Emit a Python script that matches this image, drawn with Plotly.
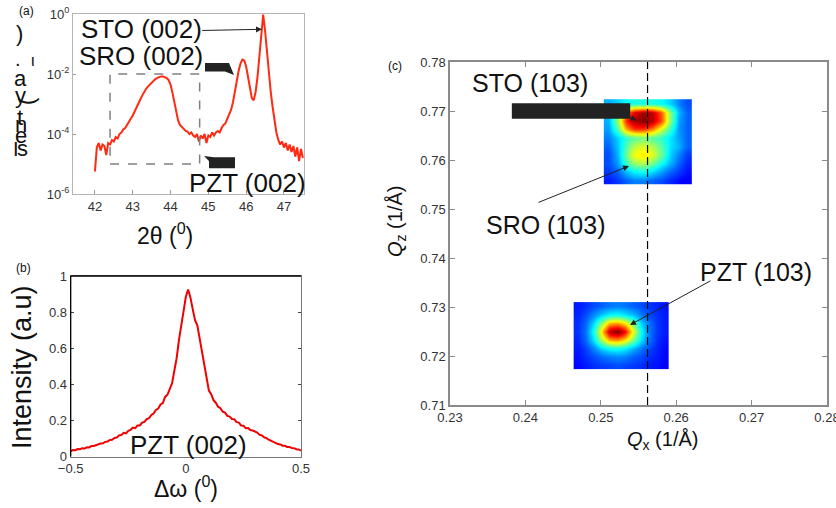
import numpy as np
import plotly.graph_objects as go

W, H = 836, 508
FONT = "Liberation Sans, Arial, Helvetica, sans-serif"

# ---------------- (a) 2theta-omega scan (log10 of normalised intensity) ----------------
two_theta_start = 42.0
two_theta_step = 0.05
log_intensity_2theta = [
    -5.25, -4.45, -4.30, -4.55, -4.35, -4.40, -4.70, -4.30, -4.35, -4.20,
    -4.25, -4.10, -4.15, -4.00, -3.95, -3.85, -3.80, -3.70, -3.60, -3.50,
    -3.38, -3.25, -3.10, -2.98, -2.85, -2.72, -2.60, -2.50, -2.42, -2.35,
    -2.28, -2.22, -2.17, -2.13, -2.10, -2.08, -2.08, -2.10, -2.14, -2.20,
    -2.35, -2.62, -2.95, -3.30, -3.55, -3.70, -3.78, -3.85, -3.90, -3.92,
    -4.00, -3.95, -4.05, -4.10, -4.00, -4.25, -4.05, -4.15, -4.00, -4.30,
    -4.05, -4.10, -3.95, -4.05, -3.95, -3.90, -3.95, -3.80, -3.70, -3.65,
    -3.50, -3.40, -3.20, -2.95, -2.65, -2.25, -1.90, -1.65, -1.52, -1.55,
    -1.75, -2.15, -2.55, -2.80, -2.88, -2.60, -2.10, -1.40, -0.65, -0.02,
    -0.55, -1.30, -2.00, -2.60, -3.10, -3.55, -3.95, -4.20, -4.35, -4.25,
    -4.45, -4.30, -4.55, -4.35, -4.60, -4.40, -4.75, -4.45, -4.90, -4.50,
    -4.80,
]
two_theta = two_theta_start + two_theta_step * np.arange(len(log_intensity_2theta))
intensity_2theta = 10.0 ** np.array(log_intensity_2theta)

# ---------------- (b) rocking curve of PZT (002) ----------------
omega_start = -0.5
omega_step = 0.01
intensity_omega = [
    0.030, 0.036, 0.035, 0.041, 0.040, 0.046, 0.044, 0.051, 0.050, 0.058,
    0.058, 0.064, 0.066, 0.072, 0.073, 0.081, 0.083, 0.092, 0.093, 0.103,
    0.105, 0.117, 0.119, 0.131, 0.128, 0.142, 0.148, 0.160, 0.157, 0.172,
    0.172, 0.188, 0.192, 0.207, 0.212, 0.230, 0.238, 0.258, 0.266, 0.288,
    0.296, 0.330, 0.342, 0.380, 0.405, 0.475, 0.545, 0.645, 0.725, 0.825,
    0.885, 0.925, 0.880, 0.815, 0.755, 0.725, 0.655, 0.585, 0.495, 0.425,
    0.365, 0.345, 0.312, 0.298, 0.276, 0.268, 0.248, 0.243, 0.225, 0.221,
    0.208, 0.207, 0.190, 0.188, 0.172, 0.171, 0.157, 0.158, 0.147, 0.144,
    0.137, 0.133, 0.120, 0.117, 0.106, 0.102, 0.093, 0.086, 0.080, 0.076,
    0.069, 0.067, 0.060, 0.059, 0.053, 0.053, 0.047, 0.046, 0.040, 0.039,
    0.033,
]
omega = omega_start + omega_step * np.arange(len(intensity_omega))

# ---------------- (c) reciprocal space map (normalised intensity, rows top -> bottom) ----------------
sto_sro_map = [
    [0.30, 0.33, 0.38, 0.40, 0.40, 0.40, 0.38, 0.33, 0.25, 0.20],
    [0.30, 0.42, 0.72, 0.90, 0.96, 0.93, 0.78, 0.50, 0.30, 0.22],
    [0.30, 0.52, 0.84, 0.96, 1.00, 0.95, 0.80, 0.50, 0.28, 0.22],
    [0.28, 0.45, 0.70, 0.82, 0.82, 0.74, 0.58, 0.42, 0.27, 0.22],
    [0.25, 0.33, 0.42, 0.47, 0.49, 0.46, 0.42, 0.35, 0.28, 0.22],
    [0.22, 0.32, 0.45, 0.56, 0.59, 0.55, 0.46, 0.35, 0.30, 0.22],
    [0.20, 0.30, 0.48, 0.62, 0.65, 0.60, 0.48, 0.33, 0.25, 0.18],
    [0.20, 0.28, 0.43, 0.53, 0.55, 0.49, 0.39, 0.30, 0.22, 0.16],
    [0.18, 0.22, 0.31, 0.37, 0.39, 0.34, 0.28, 0.22, 0.18, 0.14],
    [0.15, 0.18, 0.22, 0.25, 0.25, 0.22, 0.20, 0.16, 0.13, 0.12],
]
sto_sro_extent = (0.2504, 0.2621, 0.7550, 0.7724)  # Qx0, Qx1, Qz0, Qz1

pzt_map = [
    [0.15, 0.17, 0.20, 0.22, 0.24, 0.25, 0.24, 0.22, 0.20, 0.18, 0.16, 0.14],
    [0.16, 0.20, 0.26, 0.32, 0.37, 0.38, 0.35, 0.31, 0.25, 0.20, 0.17, 0.15],
    [0.17, 0.23, 0.34, 0.52, 0.70, 0.72, 0.64, 0.50, 0.34, 0.24, 0.18, 0.15],
    [0.17, 0.24, 0.40, 0.66, 0.95, 1.00, 0.88, 0.62, 0.39, 0.25, 0.18, 0.15],
    [0.16, 0.23, 0.35, 0.54, 0.70, 0.72, 0.64, 0.50, 0.35, 0.24, 0.17, 0.14],
    [0.15, 0.19, 0.26, 0.34, 0.39, 0.40, 0.37, 0.31, 0.25, 0.20, 0.16, 0.13],
    [0.14, 0.17, 0.20, 0.23, 0.25, 0.26, 0.25, 0.22, 0.20, 0.17, 0.15, 0.13],
    [0.13, 0.15, 0.17, 0.18, 0.19, 0.20, 0.19, 0.18, 0.17, 0.15, 0.14, 0.12],
]
pzt_extent = (0.2464, 0.2590, 0.7173, 0.7310)

qx_substrate = 0.2562

jet = [
    [0.0, "#00008f"], [0.125, "#0000ff"], [0.375, "#00ffff"],
    [0.625, "#ffff00"], [0.875, "#ff0000"], [1.0, "#800000"],
]


def map_trace(rows, extent):
    z = np.array(rows)[::-1]
    nr, nc = z.shape
    qx0, qx1, qz0, qz1 = extent
    dx = (qx1 - qx0) / nc
    dy = (qz1 - qz0) / nr
    return go.Heatmap(
        z=z, x0=qx0 + dx / 2, dx=dx, y0=qz0 + dy / 2, dy=dy,
        colorscale=jet, zmin=0, zmax=1, zsmooth="best", showscale=False,
        xaxis="x3", yaxis="y3", hoverinfo="skip",
    )


fig = go.Figure()
fig.add_trace(go.Scatter(x=two_theta, y=intensity_2theta, mode="lines",
                         line=dict(color="#ff2a10", width=2), xaxis="x", yaxis="y"))
fig.add_trace(go.Scatter(x=omega, y=intensity_omega, mode="lines",
                         line=dict(color="#f00000", width=2), xaxis="x2", yaxis="y2"))
fig.add_trace(map_trace(sto_sro_map, sto_sro_extent))
fig.add_trace(map_trace(pzt_map, pzt_extent))


def px(x):
    return x / W


def py(y):
    return 1 - y / H


def poly(points):
    return "M " + " L ".join(f"{px(a):.5f},{py(b):.5f}" for a, b in points) + " Z"


tickfont = dict(family=FONT, size=13, color="#333333")
axis_common = dict(showgrid=False, zeroline=False, showline=True, automargin=False,
                   ticklabeloverflow="allow", tickfont=tickfont)

fig.update_layout(
    template="none",
    width=W, height=H, margin=dict(l=0, r=0, t=0, b=0, pad=0, autoexpand=False),
    paper_bgcolor="white", plot_bgcolor="white", showlegend=False,
    font=dict(family=FONT, color="#111"),
    xaxis=dict(domain=[px(73), px(304)], range=[41.42, 47.53], anchor="y",
               tickvals=[42, 43, 44, 45, 46, 47], linecolor="#b4b4b4", mirror=True,
               ticks="inside", ticklen=4, tickcolor="#999", **axis_common),
    yaxis=dict(domain=[py(194), py(14)], type="log", range=[-6, 0], anchor="x",
               tickvals=[1e-6, 1e-4, 1e-2, 1],
               ticktext=["10<sup>-6</sup>", "10<sup>-4</sup>", "10<sup>-2</sup>", "10<sup>0</sup>"],
               linecolor="#b4b4b4", mirror=True, ticks="inside", ticklen=3,
               tickcolor="#999", **axis_common),
    xaxis2=dict(domain=[px(70.7), px(301)], range=[-0.5, 0.5], anchor="y2",
                tickvals=[-0.5, 0, 0.5], ticktext=["\u22120.5", "0", "0.5"],
                linecolor="#777", mirror=True, ticks="", **axis_common),
    yaxis2=dict(domain=[py(456.5), py(276)], range=[0, 1], anchor="x2",
                tickvals=[0, 0.2, 0.4, 0.6, 0.8, 1], ticktext=["0", "0.2", "0.4", "0.6", "0.8", "1"],
                linecolor="#777", mirror="ticks", ticks="inside", ticklen=3,
                tickcolor="#444", **axis_common),
    xaxis3=dict(domain=[px(450), px(827)], range=[0.23, 0.28], anchor="y3",
                tickvals=[0.23, 0.24, 0.25, 0.26, 0.27, 0.28],
                ticktext=["0.23", "0.24", "0.25", "0.26", "0.27", "0.28"],
                linecolor="#8a8a8a", linewidth=1.5, mirror="ticks", ticks="inside",
                ticklen=5, tickcolor="#8a8a8a", **axis_common),
    yaxis3=dict(domain=[py(405), py(62)], range=[0.71, 0.78], anchor="x3",
                tickvals=[0.71, 0.72, 0.73, 0.74, 0.75, 0.76, 0.77, 0.78],
                ticktext=["0.71", "0.72", "0.73", "0.74", "0.75", "0.76", "0.77", "0.78"],
                linecolor="#8a8a8a", linewidth=1.5, mirror="ticks", ticks="inside",
                ticklen=5, tickcolor="#8a8a8a", **axis_common),
)

shapes = [
    # (a) zoom window around the PZT peak
    dict(type="rect", xref="x", yref="y", x0=42.4, x1=44.77, y0=1e-5, y1=1e-2,
         line=dict(color="#808080", width=1.5, dash="dash")),
    # (a) block arrows
    dict(type="path", xref="paper", yref="paper", fillcolor="#222", line=dict(width=0),
         path=poly([(205, 63), (229, 63), (234, 75), (225, 71.5), (205, 71.5)])),
    dict(type="path", xref="paper", yref="paper", fillcolor="#222", line=dict(width=0),
         path=poly([(204, 156), (214, 157.3), (235, 157.3), (235, 168.3), (209, 168.3), (209, 161)])),
    # (b) dark top/left frame
    dict(type="line", xref="x2 domain", yref="y2 domain", x0=0, x1=1, y0=1, y1=1,
         line=dict(color="black", width=1.3)),
    dict(type="line", xref="x2 domain", yref="y2 domain", x0=0, x1=0, y0=0, y1=1,
         line=dict(color="black", width=1.3)),
    # (c) substrate Qx reference
    dict(type="line", xref="x3", yref="y3 domain", x0=qx_substrate, x1=qx_substrate, y0=0, y1=1,
         line=dict(color="black", width=1.2, dash="8px,4px")),
    # (c) STO label bar
    dict(type="rect", xref="x3", yref="y3", x0=0.2382, x1=0.2539, y0=0.7684, y1=0.7716,
         fillcolor="#222", line=dict(width=0)),
]
fig.update_layout(shapes=shapes)

ann = []


def text(x, y, s, size, color="#111", angle=0):
    ann.append(dict(xref="paper", yref="paper", x=px(x), y=py(y), text=s, showarrow=False,
                    xanchor="center", yanchor="middle", textangle=angle,
                    font=dict(family=FONT, size=size, color=color)))


def arrow(xr, yr, x, y, ax, ay, width=1.0):
    ann.append(dict(xref=xr, yref=yr, axref=xr, ayref=yr, x=x, y=y, ax=ax, ay=ay,
                    text="", showarrow=True, arrowhead=2, arrowsize=1.2,
                    arrowwidth=width, arrowcolor="#222"))


# panel letters
text(26, 11, "(a)", 12)
text(23, 268, "(b)", 12)
text(395, 66, "(c)", 12)

# (a)
text(141, 29, "STO (002)", 26)
text(141, 56, "SRO (002)", 26)
text(247, 183, "PZT (002)", 26)
arrow("x", "y", 46.42, -0.51, 44.80, -0.55)
text(165, 234, "2\u03b8 (<sup>0</sup>)", 23)
# scrambled vertical axis caption of panel (a)
text(19, 34, ")", 22)
text(18, 59, ".", 20)
text(33, 60, "\u03b9", 16)
text(20, 79, "a", 22)
text(20, 95, "y", 22)
text(27, 101, "(", 22, angle=-90)
text(20, 117, "t", 22)
text(21, 124, "n", 22)
text(21, 136, "e", 22)
text(22, 149, "s", 22)
text(16, 149, "I", 20)

# (b)
text(188, 445, "PZT (002)", 26)
text(22, 367, "Intensity (a.u)", 27, angle=-90)
text(186, 487, "\u0394\u03c9 (<sup>0</sup>)", 23)

# (c)
text(530, 83, "STO (103)", 25)
text(545, 225, "SRO (103)", 25)
text(756, 272, "PZT (103)", 25)
arrow("x3", "y3", 0.25476, 0.76816, 0.2532, 0.7690)
arrow("x3", "y3", 0.25374, 0.75878, 0.24154, 0.75122)
arrow("x3", "y3", 0.25387, 0.72633, 0.26475, 0.73551)
text(396, 222, "<i>Q</i><sub>z</sub> (1/\u00c5)", 20, angle=-90)
text(662, 440, "<i>Q</i><sub>x</sub> (1/\u00c5)", 20)

fig.update_layout(annotations=ann)
fig.write_html("out.html")
